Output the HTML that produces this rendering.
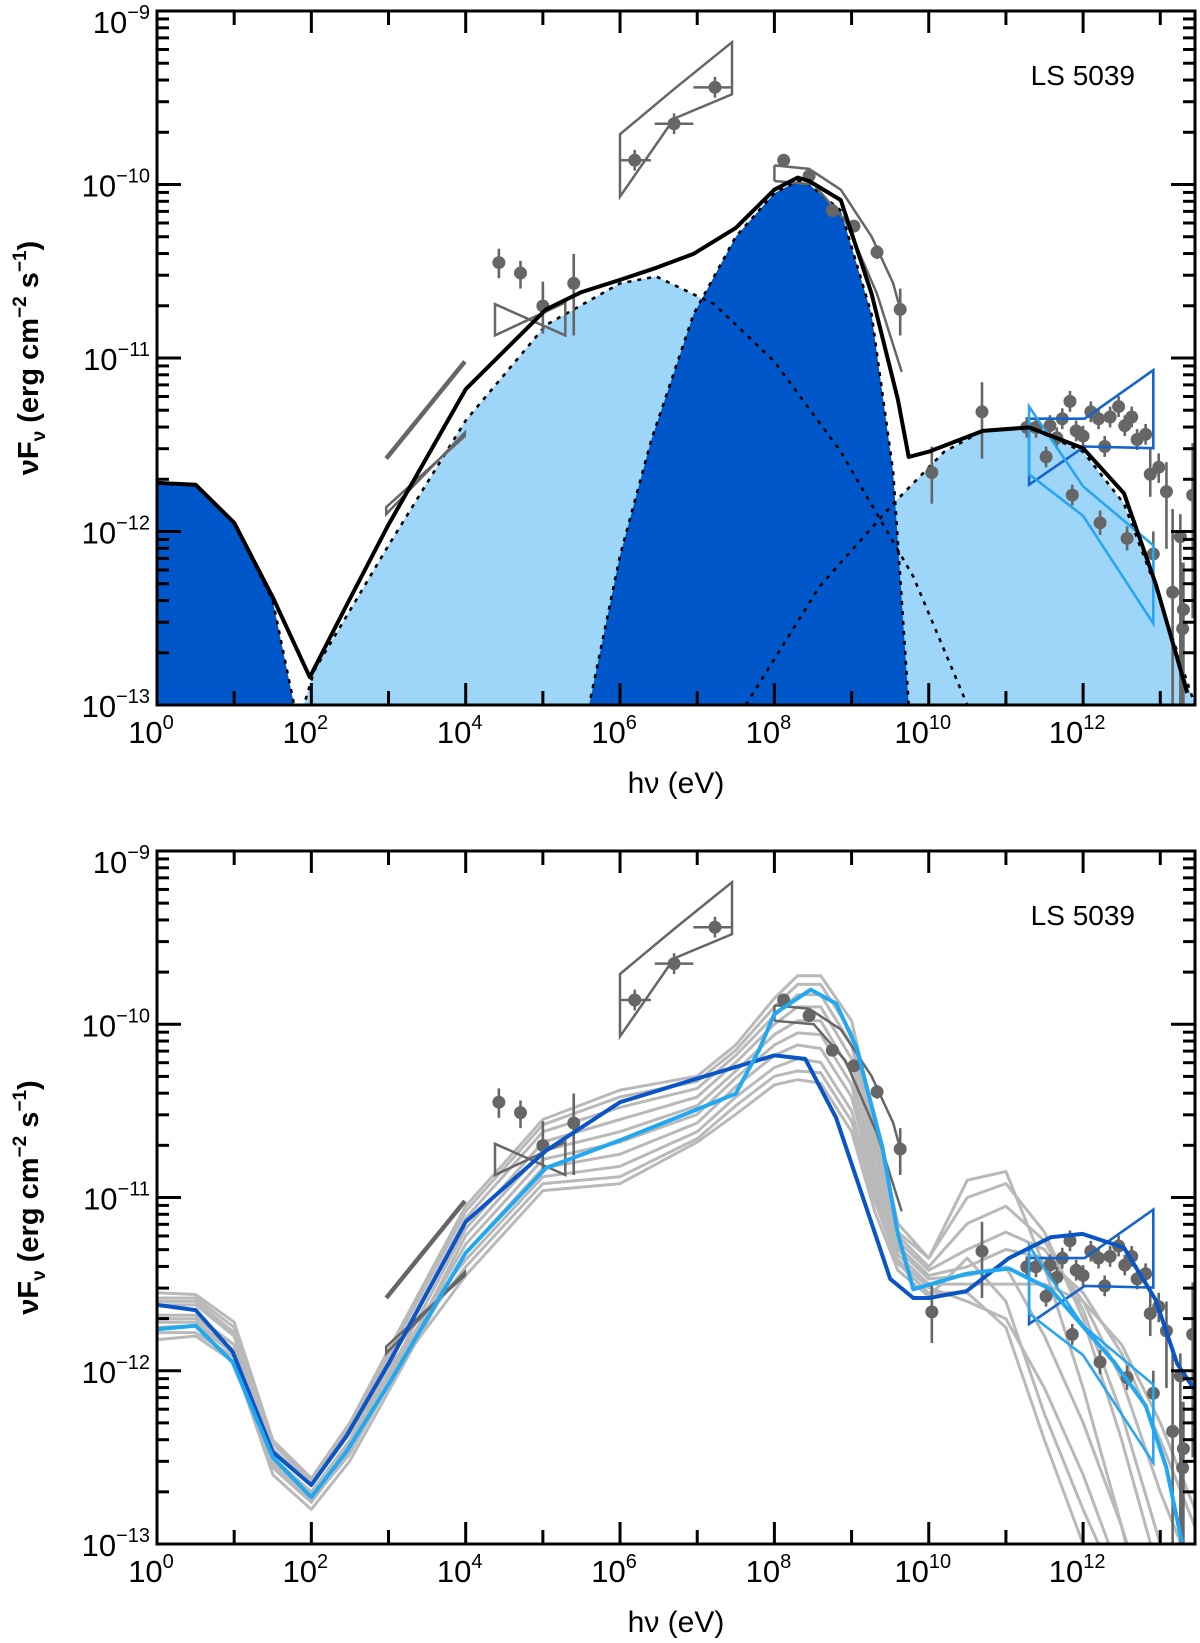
<!DOCTYPE html>
<html><head><meta charset="utf-8">
<style>
html,body{margin:0;padding:0;background:#fff;}
svg{display:block;font-family:"Liberation Sans",sans-serif;}
</style></head>
<body>
<svg id="chart" width="1200" height="1643" viewBox="0 0 1200 1643" xmlns="http://www.w3.org/2000/svg">
<defs>
<clipPath id="clipTop"><rect x="157" y="11" width="1038" height="694"/></clipPath>
<clipPath id="clipBot"><rect x="157" y="851" width="1038" height="693"/></clipPath>
</defs>
<g id="topPanel"></g>
<g id="botPanel"></g>
</svg>
<script>
// ---------- data (log10 E [eV], log10 nuFnu) ----------
const xMin = 0, xMax = 13.45, yMin = -13, yMax = -9;
// model components (top panel)
const stellarE = [0, 0.5, 1, 1.5, 1.8, 1.9];
const stellarF = [-11.72, -11.73, -11.95, -12.4, -13.05, -13.3];
const syncE = [1.7, 2.04, 3, 4, 5.04, 6, 6.47, 7.22, 8, 8.86, 9.8, 10.5, 10.8];
const syncF = [-13.3, -12.8, -12.08, -11.36, -10.81, -10.57, -10.53, -10.69, -11.02, -11.54, -12.26, -13, -13.3];
const icE = [5.5, 5.6, 6, 6.4, 6.95, 7.5, 8, 8.3, 8.45, 8.86, 9.26, 9.54, 9.74, 9.8];
const icF = [-13.3, -13, -12.14, -11.48, -10.75, -10.30, -10.05, -9.98, -10.0, -10.15, -10.75, -11.66, -13, -13.3];
const ic2E = [7.5, 7.63, 8.58, 9.54, 10.2, 10.7, 11.3, 12, 12.53, 12.94, 13.35, 13.45];
const ic2F = [-13.1, -13, -12.32, -11.84, -11.54, -11.42, -11.4, -11.54, -11.84, -12.32, -12.87, -13.0];
const totalE = [0, 0.5, 1, 1.5, 1.98, 2.45, 3, 4, 5.04, 5.5, 6, 6.47, 6.95, 7.5, 8, 8.3, 8.45, 8.86, 9.26, 9.6, 9.74, 10.0, 10.7, 11.3, 12, 12.53, 12.94, 13.35];
const totalF = [-11.72, -11.73, -11.95, -12.38, -12.84, -12.43, -11.96, -11.18, -10.72, -10.62, -10.55, -10.48, -10.40, -10.25, -10.03, -9.96, -9.98, -10.09, -10.63, -11.24, -11.57, -11.54, -11.42, -11.4, -11.52, -11.78, -12.3, -12.93];
// observations
const ptE = [4.43, 4.71, 5.0, 5.40, 8.12, 8.45, 8.75, 9.03, 9.33, 9.63, 10.04, 10.69,
  11.27, 11.39, 11.52, 11.57, 11.66, 11.73, 11.83, 11.91, 12.0, 12.10, 12.20, 12.28, 12.35, 12.46, 12.54, 12.63, 12.70, 12.81, 12.87, 12.98, 13.08, 13.42, 13.26, 12.91, 13.16, 13.30, 13.29, 11.86, 12.22, 12.57];
const ptF = [-10.45, -10.51, -10.70, -10.57, -9.86, -9.95, -10.15, -10.24, -10.39, -10.72, -11.66, -11.31,
  -11.40, -11.40, -11.57, -11.39, -11.46, -11.35, -11.25, -11.42, -11.45, -11.31, -11.35, -11.51, -11.34, -11.28, -11.39, -11.34, -11.47, -11.44, -11.67, -11.63, -11.77, -11.79, -12.03, -12.13, -12.35, -12.45, -12.56, -11.79, -11.95, -12.04];
const ptHi = [-10.37, -10.44, -10.56, -10.40, -9.83, -9.92, -10.12, -10.21, -10.35, -10.60, -11.51, -11.14,
  -11.34, -11.34, -11.51, -11.33, -11.40, -11.29, -11.19, -11.36, -11.39, -11.25, -11.29, -11.45, -11.28, -11.22, -11.33, -11.28, -11.41, -11.38, -11.52, -11.55, -11.60, -11.49, -11.90, -12.0, -11.87, -12.18, -12.18, -11.73, -11.88, -11.97];
const ptLo = [-10.54, -10.60, -10.86, -10.87, -9.89, -9.98, -10.18, -10.27, -10.43, -10.87, -11.84, -11.58,
  -11.46, -11.46, -11.63, -11.45, -11.52, -11.41, -11.31, -11.48, -11.51, -11.37, -11.41, -11.57, -11.40, -11.34, -11.45, -11.40, -11.53, -11.50, -11.80, -11.72, -12.10, -12.5, -13.1, -12.26, -13.1, -13.1, -13.1, -11.85, -12.02, -12.11];
const comptelE = [6.19, 6.70, 7.23];
const comptelF = [-9.86, -9.65, -9.44];
const comptelXlo = [6.0, 6.45, 6.95];
const comptelXhi = [6.4, 6.95, 7.45];
const comptelBoxE = [6.0, 6.7, 7.45, 7.45, 6.7, 6.0];
const comptelBoxF = [-9.71, -9.45, -9.18, -9.48, -9.62, -10.07];
const xmmBowE = [4.38, 5.29, 5.29, 4.38];
const xmmBowF = [-10.69, -10.87, -10.68, -10.87];
const xrayAE = [2.97, 3.99]; const xrayAF = [-11.58, -11.02];
const xrayBE = [2.97, 3.99]; const xrayBF = [-11.86, -11.45];
const fermiUpE = [8.0, 8.45, 8.86, 9.26, 9.54, 9.65];
const fermiUpF = [-9.89, -9.91, -10.03, -10.30, -10.57, -10.75];
const fermiLoE = [8.0, 8.51, 8.92, 9.33, 9.65];
const fermiLoF = [-9.98, -10.0, -10.21, -10.63, -11.08];
const hessDarkE = [11.30, 12.02, 12.91, 12.91, 12.02, 11.30, 11.30];
const hessDarkF = [-11.35, -11.35, -11.07, -11.52, -11.51, -11.73, -11.35];
const hessLightE = [11.30, 12.0, 12.91, 12.91, 12.0, 11.30, 11.30];
const hessLightF = [-11.28, -11.74, -12.08, -12.53, -11.91, -11.67, -11.28];
// bottom panel models
const darkLineE = [0, 0.5, 0.98, 1.5, 2.0, 2.45, 3.0, 4.0, 5.04, 6.0, 6.95, 8.0, 8.4, 8.8, 9.32, 9.5, 9.8, 10.0, 10.49, 11.04, 11.58, 11.99, 12.53, 12.94, 13.22, 13.49];
const darkLineF = [-11.62, -11.65, -11.89, -12.47, -12.66, -12.38, -11.96, -11.14, -10.73, -10.45, -10.32, -10.18, -10.2, -10.54, -11.23, -11.47, -11.58, -11.58, -11.54, -11.35, -11.23, -11.21, -11.29, -11.59, -11.96, -12.14];
const lightLineE = [0, 0.5, 0.98, 1.5, 2.0, 2.45, 3.0, 4.0, 5.04, 6.0, 6.95, 7.5, 7.8, 8.0, 8.47, 8.8, 9.06, 9.4, 9.6, 9.8, 10.49, 11.04, 11.58, 11.99, 12.4, 12.81, 13.08, 13.28];
const lightLineF = [-11.76, -11.74, -11.95, -12.50, -12.73, -12.47, -12.08, -11.32, -10.83, -10.67, -10.50, -10.40, -10.15, -9.94, -9.80, -9.88, -10.13, -10.71, -11.21, -11.53, -11.44, -11.41, -11.53, -11.74, -11.95, -12.2, -12.56, -12.99];
const grayE = [0, 0.5, 1, 1.5, 2, 2.5, 3, 4, 5, 6, 7, 7.5, 8, 8.3, 8.6, 9, 9.3, 9.6, 10, 10.5, 11, 11.5, 12, 12.5, 13, 13.45];
const gray1 = [-11.55, -11.56, -11.72, -12.40, -12.62, -12.30, -11.88, -11.05, -10.55, -10.38, -10.30, -10.12, -9.85, -9.72, -9.72, -9.98, -10.55, -11.15, -11.35, -11.00, -10.92, -11.20, -11.70, -12.40, -13.2, -13.6];
const gray2 = [-11.60, -11.60, -11.78, -12.45, -12.66, -12.36, -11.95, -11.12, -10.62, -10.48, -10.37, -10.18, -9.95, -9.83, -9.83, -10.12, -10.68, -11.22, -11.40, -11.15, -11.05, -11.25, -11.65, -12.25, -13.0, -13.4];
const gray3 = [-11.68, -11.68, -11.85, -12.50, -12.70, -12.42, -12.02, -11.18, -10.68, -10.55, -10.42, -10.22, -10.00, -9.90, -9.90, -10.20, -10.75, -11.25, -11.42, -11.30, -11.20, -11.30, -11.60, -12.05, -12.7, -13.2];
const gray4 = [-11.75, -11.74, -11.90, -12.55, -12.75, -12.48, -12.08, -11.22, -10.73, -10.62, -10.47, -10.27, -10.06, -9.98, -9.98, -10.28, -10.82, -11.28, -11.45, -11.40, -11.30, -11.35, -11.55, -11.90, -12.4, -12.9];
const gray5 = [-11.82, -11.80, -11.95, -12.60, -12.80, -12.52, -12.12, -11.32, -10.83, -10.75, -10.57, -10.36, -10.18, -10.12, -10.14, -10.42, -10.93, -11.33, -11.50, -11.50, -11.50, -11.50, -11.60, -11.85, -12.3, -12.8];
const gray6 = [-11.62, -11.62, -11.80, -12.46, -12.64, -12.34, -11.92, -11.36, -10.88, -10.82, -10.62, -10.42, -10.25, -10.20, -10.22, -10.50, -10.98, -11.36, -11.52, -11.60, -11.70, -12.10, -12.60, -13.2, -13.8, -14];
const gray7 = [-11.70, -11.70, -11.85, -12.52, -12.70, -12.40, -11.98, -11.40, -10.92, -10.88, -10.66, -10.47, -10.30, -10.27, -10.28, -10.56, -11.02, -11.38, -11.55, -11.55, -11.75, -12.40, -13.0, -13.6, -14, -14];
const gray8 = [-11.78, -11.78, -11.92, -12.56, -12.76, -12.46, -12.05, -11.45, -10.96, -10.92, -10.68, -10.52, -10.35, -10.32, -10.34, -10.62, -11.08, -11.42, -11.57, -11.35, -11.60, -12.25, -12.80, -13.3, -14, -14];
const gray9 = [-11.58, -11.58, -11.75, -12.42, -12.64, -12.33, -11.91, -11.08, -10.58, -10.42, -10.33, -10.15, -9.90, -9.77, -9.77, -10.05, -10.62, -11.20, -11.35, -10.90, -10.85, -11.40, -12.10, -12.9, -13.8, -14];
const gray10 = [-11.72, -11.72, -11.88, -12.54, -12.72, -12.44, -12.04, -11.27, -10.78, -10.68, -10.52, -10.31, -10.12, -10.05, -10.06, -10.35, -10.88, -11.30, -11.47, -11.45, -11.40, -11.80, -12.30, -12.9, -13.6, -14];
const grayCurves = [gray1, gray2, gray3, gray4, gray5, gray6, gray7, gray8, gray9, gray10];
const xTickLabels = ["0", "2", "4", "6", "8", "10", "12"];
const yTickLabels = ["−9", "−10", "−11", "−12", "−13"];

// ---------- layout ----------
const NS = "http://www.w3.org/2000/svg";
const L = 157, R = 1195;
const panels = [
  {g: document.getElementById('topPanel'), top: 11, bot: 705, clip: 'clipTop', name: 'top'},
  {g: document.getElementById('botPanel'), top: 851, bot: 1544, clip: 'clipBot', name: 'bottom'}
];
function sx(e) { return L + (e - xMin) / (xMax - xMin) * (R - L); }
function mk(tag, attrs, parent) {
  const el = document.createElementNS(NS, tag);
  for (const k in attrs) el.setAttribute(k, attrs[k]);
  parent.appendChild(el);
  return el;
}
function pts(E, F, sy) { return E.map((e, i) => sx(e).toFixed(1) + ',' + sy(F[i]).toFixed(1)).join(' '); }

panels.forEach((p, pi) => {
  const sy = f => p.top + (yMax - f) / (yMax - yMin) * (p.bot - p.top);
  const g = p.g;
  const plot = mk('g', {'clip-path': 'url(#' + p.clip + ')'}, g);
  
  

  function fillComp(E, F, color, name) {
    const d = 'M' + sx(E[0]) + ',' + p.bot + ' L' + pts(E, F, sy).split(' ').join(' L') + ' L' + sx(E[E.length - 1]) + ',' + p.bot + ' Z';
    const el = mk('path', {d: d, fill: color, stroke: 'none'}, plot);
    
    
  }
  function line(E, F, color, w, name, dash) {
    const el = mk('polyline', {points: pts(E, F, sy), fill: 'none', stroke: color, 'stroke-width': w, 'stroke-linejoin': 'round'}, plot);
    if (dash) el.setAttribute('stroke-dasharray', dash);
    
    
    return el;
  }

  if (pi === 0) {
    fillComp(syncE, syncF, '#9dd6f9', 'synchrotron-fill');
    fillComp(ic2E, ic2F, '#9dd6f9', 'tev-component-fill');
    fillComp(icE, icF, '#0057c9', 'inverse-compton-fill');
    fillComp(stellarE, stellarF, '#0057c9', 'stellar-fill');
    line(syncE, syncF, '#000', 2.6, 'synchrotron-dashed', '4,6');
    line(ic2E, ic2F, '#000', 2.6, 'tev-component-dashed', '4,6');
    line(icE, icF, '#000', 2.6, 'inverse-compton-dashed', '4,6');
    line(stellarE, stellarF, '#000', 2.6, 'stellar-dashed', '4,6');
  } else {
    grayCurves.forEach((c, ci) => {
      line(grayE, c, '#b9b9b9', 3, 'model-curve-gray');
    });
  }

  // observations
  const obs = mk('g', {}, plot);
  
  
  const gc = '#666';
  mk('polyline', {points: pts(xrayAE, xrayAF, sy), stroke: gc, 'stroke-width': 4.5, fill: 'none'}, obs);
  mk('polygon', {points: pts([xrayBE[0], xrayBE[1], xrayBE[1], xrayBE[0]], [xrayBF[0], xrayBF[1], xrayBF[1] + 0.02, xrayBF[0] - 0.04], sy), stroke: gc, 'stroke-width': 2.5, fill: 'none'}, obs);
  mk('polygon', {points: pts(xmmBowE, xmmBowF, sy), stroke: gc, 'stroke-width': 2.5, fill: 'none'}, obs);
  mk('polygon', {points: pts(comptelBoxE, comptelBoxF, sy), stroke: gc, 'stroke-width': 2.5, fill: 'none'}, obs);
  comptelE.forEach((e, i) => {
    mk('line', {x1: sx(comptelXlo[i]), x2: sx(comptelXhi[i]), y1: sy(comptelF[i]), y2: sy(comptelF[i]), stroke: gc, 'stroke-width': 2.5}, obs);
    mk('line', {x1: sx(e), x2: sx(e), y1: sy(comptelF[i] + 0.06), y2: sy(comptelF[i] - 0.06), stroke: gc, 'stroke-width': 2.5}, obs);
    const c = mk('circle', {cx: sx(e), cy: sy(comptelF[i]), r: 6.5, fill: gc}, obs);
    
    
  });
  const fu = mk('polyline', {points: pts(fermiUpE, fermiUpF, sy), stroke: gc, 'stroke-width': 2.5, fill: 'none'}, obs);
  
  const fl = mk('polyline', {points: pts(fermiLoE, fermiLoF, sy), stroke: gc, 'stroke-width': 2.5, fill: 'none'}, obs);
  
  mk('line', {x1: sx(fermiUpE[0]), x2: sx(fermiUpE[0]), y1: sy(fermiUpF[0]), y2: sy(fermiLoF[0]), stroke: gc, 'stroke-width': 2.5}, obs);
  ptE.forEach((e, i) => {
    mk('line', {x1: sx(e), x2: sx(e), y1: sy(ptHi[i]), y2: sy(ptLo[i]), stroke: gc, 'stroke-width': 2.6}, obs);
    const c = mk('circle', {cx: sx(e), cy: sy(ptF[i]), r: 6.5, fill: gc}, obs);
    
    
  });
  const hd = mk('polygon', {points: pts(hessDarkE, hessDarkF, sy), stroke: '#1464cc', 'stroke-width': 2.6, fill: 'none'}, obs);
  
  const hl = mk('polygon', {points: pts(hessLightE, hessLightF, sy), stroke: '#2aa6f0', 'stroke-width': 2.6, fill: 'none'}, obs);
  

  if (pi === 0) {
    line(totalE, totalF, '#000', 4, 'total-model-line');
  } else {
    line(darkLineE, darkLineF, '#0a55c6', 4, 'model-line-dark-blue');
    line(lightLineE, lightLineF, '#22a8f0', 4, 'model-line-light-blue');
  }

  // axes frame
  const fr = mk('rect', {x: L, y: p.top, width: R - L, height: p.bot - p.top, fill: 'none', stroke: '#000', 'stroke-width': 3}, g);
  
  
  // x ticks
  for (let d = 0; d <= 13; d++) {
    const x = sx(d);
    const len = (d % 2 === 0) ? 22 : 14;
    mk('line', {x1: x, x2: x, y1: p.bot, y2: p.bot - len, stroke: '#000', 'stroke-width': 3}, g);
    mk('line', {x1: x, x2: x, y1: p.top, y2: p.top + len, stroke: '#000', 'stroke-width': 3}, g);
  }
  xTickLabels.forEach((lab, i) => {
    const t = mk('text', {x: sx(i * 2) - 6, y: p.bot + 38, 'text-anchor': 'middle', 'font-size': 31, fill: '#000'}, g);
    t.textContent = '10';
    const s = mk('tspan', {'font-size': 20, dy: -14}, t);
    s.textContent = lab;
    
    
  });
  // y ticks
  for (let dec = -13; dec <= -9; dec++) {
    for (let m = 1; m <= 9; m++) {
      const f = dec + Math.log10(m);
      if (f > yMax + 1e-6) continue;
      const y = sy(f);
      const len = m === 1 ? 24 : 12;
      mk('line', {x1: L, x2: L + len, y1: y, y2: y, stroke: '#000', 'stroke-width': 3}, g);
      mk('line', {x1: R, x2: R - len, y1: y, y2: y, stroke: '#000', 'stroke-width': 3}, g);
    }
  }
  yTickLabels.forEach((lab, i) => {
    const off = i === 0 ? 22 : 12;
    const t = mk('text', {x: 150, y: sy(-9 - i) + off, 'text-anchor': 'end', 'font-size': 31, fill: '#000'}, g);
    t.textContent = '10';
    const s = mk('tspan', {'font-size': 20, dy: -14}, t);
    s.textContent = lab;
    
    
  });
  // axis titles
  const xt = mk('text', {x: (L + R) / 2, y: p.bot + 88, 'text-anchor': 'middle', 'font-size': 30, fill: '#000'}, g);
  xt.textContent = 'hν (eV)';
  
  
  const cy = (p.top + p.bot) / 2;
  const yt = mk('text', {x: 0, y: 0, transform: 'translate(38,' + cy + ') rotate(-90)', 'text-anchor': 'middle', 'font-size': 29, 'font-weight': 'bold', fill: '#000'}, g);
  yt.innerHTML = 'νF<tspan font-size="19" dy="7">ν</tspan><tspan dy="-7"> (erg cm</tspan><tspan font-size="19" dy="-12">−2</tspan><tspan dy="12"> s</tspan><tspan font-size="19" dy="-12">−1</tspan><tspan dy="12">)</tspan>';
  
  
  const src = mk('text', {x: 1135, y: p.top + 74, 'text-anchor': 'end', 'font-size': 28, fill: '#000'}, g);
  src.textContent = 'LS 5039';
  
  
});
</script>
</body></html>
